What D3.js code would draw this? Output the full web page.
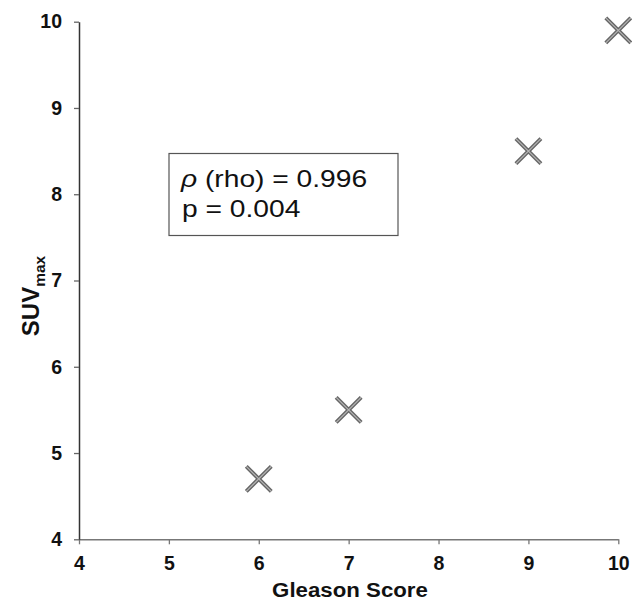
<!DOCTYPE html>
<html>
<head>
<meta charset="utf-8">
<script src="https://cdn.jsdelivr.net/npm/d3@7"></script>
<style>
  body { margin: 0; background: #fff; }
  text { font-family: Arial, "Liberation Sans", sans-serif; }
</style>
</head>
<body>
<div id="chart"></div>
<script>
// data
var gleason = [6, 7, 9, 10];
var suvmax = [4.7, 5.5, 8.5, 9.9];
var xTicks = [4, 5, 6, 7, 8, 9, 10];
var yTicks = [4, 5, 6, 7, 8, 9, 10];
var statLines = ['(rho) = 0.996', 'p = 0.004'];

var width = 632, height = 602;

var svg = d3.select('#chart')
    .append('svg')
    .attr('width', width)
    .attr('height', height);

var x = d3.scaleLinear().domain([4, 10]).range([79, 618.3]);
var y = d3.scaleLinear().domain([4, 10]).range([539.3, 21.7]);

// x axis
var xAxis = svg.append('g')
    .attr('transform', `translate(0,${y(4)})`)
    .call(d3.axisBottom(x).tickValues(xTicks).tickFormat(d3.format('d'))
        .tickSize(5).tickSizeOuter(0).tickPadding(12));
xAxis.select('.domain').attr('stroke', '#777').attr('stroke-width', 1.5);
xAxis.selectAll('.tick line').attr('stroke', '#777').attr('stroke-width', 1.3);
xAxis.selectAll('.tick text')
    .attr('font-size', 19.5).attr('font-weight', 'bold').attr('fill', '#111')
    .attr('font-family', 'Arial, "Liberation Sans", sans-serif');

// y axis
var yAxis = svg.append('g')
    .attr('transform', `translate(${x(4)},0)`)
    .call(d3.axisLeft(y).tickValues(yTicks).tickFormat(d3.format('d'))
        .tickSize(5).tickSizeOuter(0).tickPadding(12));
yAxis.select('.domain').attr('stroke', '#333').attr('stroke-width', 1.5);
yAxis.selectAll('.tick line').attr('stroke', '#666').attr('stroke-width', 1.3);
yAxis.selectAll('.tick text')
    .attr('font-size', 19.5).attr('font-weight', 'bold').attr('fill', '#111')
    .attr('font-family', 'Arial, "Liberation Sans", sans-serif');

// axis titles
svg.append('text')
    .attr('transform', 'translate(350,597)scale(1.06,1)')
    .attr('text-anchor', 'middle')
    .attr('font-size', 21).attr('font-weight', 'bold').attr('fill', '#111')
    .text('Gleason Score');

var yTitle = svg.append('text')
    .attr('transform', 'translate(39,296)rotate(-90)')
    .attr('text-anchor', 'middle')
    .attr('font-size', 24).attr('font-weight', 'bold').attr('fill', '#111');
yTitle.append('tspan').text('SUV');
yTitle.append('tspan').attr('font-size', 15.5).attr('dy', 6).text('max');

// stats box
var box = svg.append('g');
box.append('rect')
    .attr('x', 169).attr('y', 153.5)
    .attr('width', 229).attr('height', 82)
    .attr('fill', '#fff').attr('stroke', '#555').attr('stroke-width', 1.2);
var l1 = box.append('text')
    .attr('transform', 'translate(181,187)scale(1.2,1)')
    .attr('font-size', 23.5).attr('fill', '#111');
l1.append('tspan').attr('font-style', 'italic').text('\u03C1 ');
l1.append('tspan').text(statLines[0]);
box.append('text')
    .attr('transform', 'translate(182,217)scale(1.2,1)')
    .attr('font-size', 23.5).attr('fill', '#111')
    .text(statLines[1]);

// markers
var pts = gleason.map((g, i) => ({g: g, s: suvmax[i]}));
var r = 12.5;
var cross = `M${-r},${-r}L${r},${r}M${-r},${r}L${r},${-r}`;
var marks = svg.append('g').selectAll('g').data(pts).enter().append('g')
    .attr('transform', d => `translate(${x(d.g)},${y(d.s)})`);
marks.append('path').attr('d', cross)
    .attr('stroke', '#666').attr('stroke-width', 4).attr('fill', 'none');
marks.append('path').attr('d', cross)
    .attr('stroke', '#b5b5b5').attr('stroke-width', 1.2).attr('fill', 'none');
</script>
</body>
</html>
